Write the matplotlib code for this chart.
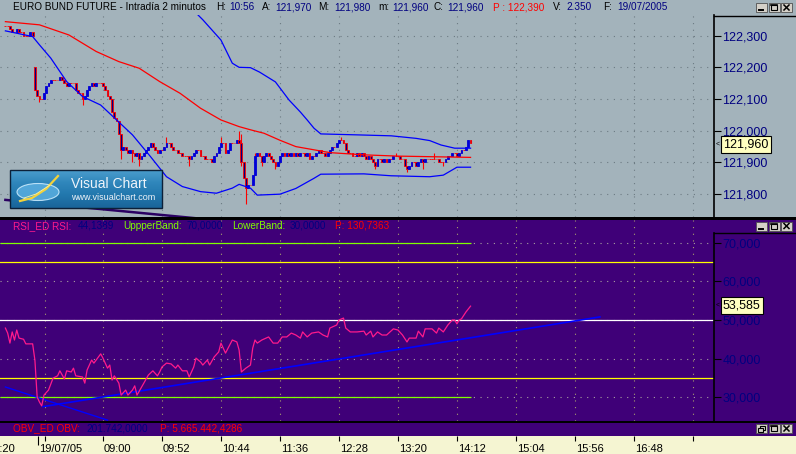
import matplotlib
matplotlib.use("Agg")
import matplotlib.pyplot as plt
import matplotlib.transforms as mtransforms
from matplotlib.patches import Rectangle, Ellipse
import numpy as np

plt.rcParams['font.family'] = ['Liberation Sans', 'DejaVu Sans']

# ---------------- data ----------------
# 2-minute bars, EURO BUND FUTURE, bar index 0 = first visible bar
close = [122.33, 122.33, 122.32, 122.31, 122.31, 122.32, 122.31, 122.31, 122.30, 122.30, 122.30, 122.31, 122.30,
         122.13, 122.11, 122.10, 122.10, 122.12, 122.14, 122.15, 122.16,
         122.16, 122.16, 122.16, 122.17, 122.16, 122.15, 122.14, 122.15, 122.15, 122.15,
         122.13, 122.12, 122.12, 122.10, 122.11, 122.13, 122.14, 122.15, 122.14, 122.15,
         122.15, 122.15, 122.14, 122.13, 122.11, 122.10, 122.06, 122.04, 122.03, 121.99,
         121.94, 121.95, 121.94, 121.93, 121.94, 121.93, 121.92, 121.93, 121.91, 121.92,
         121.93, 121.94, 121.95, 121.96, 121.95, 121.94, 121.93, 121.94, 121.94, 121.95,
         121.96, 121.96, 121.95, 121.94, 121.94, 121.93, 121.93, 121.92, 121.92, 121.92,
         121.91, 121.92, 121.93, 121.94, 121.94, 121.92, 121.92, 121.91, 121.91, 121.91,
         121.90, 121.92, 121.93, 121.95, 121.96, 121.96, 121.93, 121.94, 121.96, 121.96,
         121.96, 121.97, 121.96, 121.90, 121.85, 121.82, 121.83, 121.83, 121.86, 121.92,
         121.93, 121.92, 121.90, 121.92, 121.93, 121.92, 121.91, 121.90, 121.89, 121.90,
         121.92, 121.93, 121.92, 121.93, 121.92, 121.93, 121.92, 121.93, 121.92, 121.93,
         121.93, 121.92, 121.93, 121.91, 121.92, 121.92, 121.93, 121.94, 121.93, 121.93,
         121.92, 121.93, 121.94, 121.95, 121.95, 121.96, 121.97, 121.97, 121.96, 121.94,
         121.93, 121.93, 121.92, 121.92, 121.93, 121.92, 121.93, 121.92, 121.91, 121.92,
         121.91, 121.90, 121.89, 121.91, 121.91, 121.90, 121.91, 121.90, 121.91, 121.91,
         121.92, 121.92, 121.92, 121.91, 121.91, 121.89, 121.88, 121.89, 121.90, 121.90,
         121.89, 121.90, 121.91, 121.90, 121.91, 121.91, 121.91, 121.91, 121.91, 121.91,
         121.90, 121.90, 121.90, 121.91, 121.92, 121.92, 121.93, 121.93, 121.92, 121.93,
         121.94, 121.94, 121.95, 121.97, 121.96]
gap_open = {13: 122.20}
wick_high = {13: 122.20, 47: 122.10, 71: 121.98, 95: 121.98, 103: 122.00, 104: 121.99,
             110: 121.93, 148: 121.98, 172: 121.93, 189: 121.93, 204: 121.97}
wick_low = {15: 122.09, 34: 122.08, 51: 121.91, 56: 121.90, 59: 121.89, 81: 121.89, 104: 121.89,
            106: 121.77, 113: 121.89, 119: 121.88, 163: 121.88, 177: 121.87, 184: 121.88, 193: 121.89}

ma_bar = [0, 15, 28, 40, 50, 59, 68, 77, 86, 95, 103, 108, 114, 121, 128, 143, 158, 173, 205]
ma_val = [122.344, 122.334, 122.302, 122.25, 122.218, 122.197, 122.155, 122.118, 122.071, 122.034,
          122.013, 122.003, 121.992, 121.97, 121.95, 121.931, 121.924, 121.92, 121.916]

upper_bar = [80, 87, 95, 100, 103, 108, 112, 119, 125, 130, 133, 136, 139, 155, 170, 181, 187, 192, 198, 205]
upper_val = [122.40, 122.35, 122.286, 122.213, 122.20, 122.199, 122.185, 122.154, 122.097, 122.059,
             122.034, 122.008, 121.99, 121.987, 121.984, 121.976, 121.969, 121.955, 121.945, 121.945]

lower_bar = [0, 12, 15, 20, 27, 34, 42, 49, 56, 64, 71, 78, 86, 93, 100, 103, 108, 111, 121, 128,
             136, 139, 158, 170, 187, 193, 199, 205]
lower_val = [122.315, 122.297, 122.271, 122.229, 122.155, 122.108, 122.081, 122.034, 121.987, 121.918,
             121.855, 121.824, 121.808, 121.803, 121.819, 121.831, 121.819, 121.797, 121.80, 121.818,
             121.85, 121.863, 121.864, 121.858, 121.855, 121.86, 121.885, 121.885]

overlay_bar = [0, 84]
overlay_val = [121.782, 121.724]

rsi_bar = [0, 1, 2, 3, 4, 5, 6, 8, 9, 12, 13, 14, 15, 16, 17, 19, 21, 23, 24, 26, 27, 29, 30, 31, 34, 35,
           36, 38, 39, 42, 43, 45, 46, 47, 48, 50, 51, 53, 54, 56, 57, 58, 61, 63, 65, 67, 68, 69, 71, 73,
           75, 76, 78, 80, 81, 83, 84, 86, 87, 89, 90, 92, 94, 95, 97, 100, 102, 103, 104, 106, 108, 109,
           110, 111, 113, 116, 118, 120, 122, 124, 126, 128, 130, 131, 133, 135, 138, 140, 142, 143, 146,
           147, 149, 150, 152, 155, 158, 159, 161, 162, 164, 166, 168, 171, 173, 175, 177, 178, 181, 182,
           184, 185, 188, 190, 191, 193, 195, 197, 198, 199, 200, 201, 203, 205]
rsi_val = [47.9, 46.6, 44.0, 46.9, 44.8, 47.4, 45.3, 45.0, 43.8, 43.8, 39.6, 30.0, 28.7, 27.7, 30.5, 31.8,
           34.9, 35.5, 36.8, 34.7, 36.8, 36.5, 37.5, 35.5, 35.2, 33.6, 37.0, 39.6, 38.8, 41.2, 40.1, 37.5,
           38.3, 34.4, 35.5, 33.6, 30.5, 31.8, 30.5, 31.8, 32.9, 30.5, 33.6, 35.7, 36.8, 35.5, 36.5, 37.8,
           38.8, 38.6, 37.5, 38.3, 36.8, 36.8, 35.2, 37.8, 40.1, 39.1, 38.3, 39.6, 38.3, 40.4, 41.7, 44.0,
           41.4, 44.8, 44.3, 42.2, 36.5, 37.5, 38.3, 42.7, 44.8, 44.0, 44.8, 45.6, 44.0, 44.0, 45.6, 45.6,
           46.6, 46.1, 45.3, 46.9, 45.6, 46.6, 46.9, 46.1, 45.6, 47.9, 48.7, 50.0, 50.5, 47.9, 46.9, 46.9,
           47.1, 46.1, 47.1, 45.6, 46.9, 46.1, 46.1, 47.7, 47.4, 46.1, 44.3, 45.3, 45.3, 47.1, 45.6, 47.7,
           47.7, 46.6, 47.9, 46.9, 48.7, 50.0, 50.0, 49.0, 50.0, 50.3, 52.1, 53.6]
rsi_down_bar = [0, 45]
rsi_down_val = [32.6, 24.0]
rsi_up_bar = [16.6, 262]
rsi_up_val = [27.5, 50.8]
upper_band_level = 70
lower_band_level = 30
rsi_levels_yellow = [65, 35]
rsi_level_white = 50

price_ticks = [121.8, 121.9, 122.0, 122.1, 122.2, 122.3]
rsi_ticks = [30, 40, 50, 60, 70]
time_ticks = [43, 69, 95, 121, 147, 173, 199, 225, 251, 277]
time_labels = ['09:00', '09:52', '10:44', '11:36', '12:28', '13:20', '14:12', '15:04', '15:56', '16:48']
grid_bars = [17.5] + time_ticks + [303]
day_tick, day_label = 14.5, '19/07/05'
prev_tick, prev_label = -8.5, '17:20'

title_parts = [("EURO BUND FUTURE - Intradía 2 minutos", 'black', 13), ("H:", 'black', 216), ("10:56", 'navy', 229),
               ("A:", 'black', 262), ("121,970", 'navy', 275), ("M:", 'black', 318), ("121,980", 'navy', 334),
               ("m:", 'black', 378), ("121,960", 'navy', 392), ("C:", 'black', 434), ("121,960", 'navy', 447),
               ("P : 122,390", 'red', 493), ("V:", 'black', 553), ("2.350", 'navy', 566), ("F:", 'black', 603),
               ("19/07/2005", 'navy', 617)]
rsi_parts = [("RSI_ED RSI:", 'pink', 13), ("44,1389", 'navy', 78), ("UppperBand:", 'lime', 123),
             ("70,0000", 'navy', 187), ("LowerBand:", 'lime', 232), ("30,0000", 'navy', 290),
             ("P: 130,7363", 'red', 335)]
obv_parts = [("OBV_ED OBV:", 'red', 13), ("201.742,0000", 'navy', 86), ("P: 5.665.442,4286", 'red', 160)]

# ---------------- style ----------------
W, H = 796, 454
PX_PER_BAR = 2.269
X_LEFT = -2.38
PRICE_BG = '#a3b3bb'
RSI_BG = '#3f0078'
STRIP_BG = '#f5f5d2'
NAVY = '#000080'
COLORS = {'black': 'black', 'navy': NAVY, 'red': '#ff0000', 'pink': '#ff1a8c', 'lime': '#80ff00'}

fig = plt.figure(figsize=(W / 100, H / 100), dpi=100)


def frac(x0, y0, x1, y1):
    return [x0 / W, 1 - y1 / H, (x1 - x0) / W, (y1 - y0) / H]


bg = fig.add_axes([0, 0, 1, 1], zorder=-10)
bg.set_xlim(0, W)
bg.set_ylim(H, 0)
bg.axis('off')
for x0, y0, x1, y1, c in [(0, 0, W, 217, PRICE_BG), (0, 217, W, 220, 'black'), (0, 220, W, 436, RSI_BG),
                          (0, 421, W, 422.5, 'black'), (0, 436, W, H, STRIP_BG)]:
    bg.add_patch(Rectangle((x0, y0), x1 - x0, y1 - y0, facecolor=c, edgecolor='none'))

xlim = (X_LEFT, X_LEFT + 714 / PX_PER_BAR)

# ---------------- price panel ----------------
axp = fig.add_axes(frac(0, 15, 714, 217))
axp.set_facecolor(PRICE_BG)
for s in ['top', 'left', 'bottom']:
    axp.spines[s].set_visible(False)
axp.spines['right'].set_linewidth(1.2)
axp.set_xlim(*xlim)
axp.set_ylim(121.728, 122.365)
axp.yaxis.tick_right()
axp.set_yticks(price_ticks)
axp.set_yticklabels([f"{v:.3f}".replace('.', ',') for v in price_ticks])
axp.tick_params(axis='y', direction='out', length=5, width=0.8, colors='black',
                labelcolor=NAVY, labelsize=9, pad=1)
axp.set_xticks(grid_bars)
axp.tick_params(axis='x', bottom=False, labelbottom=False)
axp.set_axisbelow(True)
axp.grid(True, color='#6c7a82', linestyle=(0, (1, 5)), linewidth=0.8)

idx = np.arange(len(close))
cl = np.array(close)
op = np.concatenate([[close[0]], cl[:-1]])
for k, v in gap_open.items():
    op[k] = v
hi = np.maximum(op, cl)
lo = np.minimum(op, cl)
for k, v in wick_high.items():
    hi[k] = max(hi[k], v)
for k, v in wick_low.items():
    lo[k] = min(lo[k], v)
up = cl > op
face = np.where(up, '#0000d8', '#000080')
edge = np.where(up, '#0000d8', '#ff0000')
axp.vlines(idx, lo, hi, colors='#ff0000', linewidth=0.8, zorder=2)
axp.bar(idx, cl - op, bottom=op, width=0.8, color=face, edgecolor=edge, linewidth=0.6, zorder=3)

axp.plot(ma_bar, ma_val, color='#ff0000', linewidth=0.9, zorder=4)
axp.plot(upper_bar, upper_val, color='#0000ff', linewidth=0.9, zorder=4)
axp.plot(lower_bar, lower_val, color='#0000ff', linewidth=0.9, zorder=4)
axp.plot(overlay_bar, overlay_val, color='#2a0062', linewidth=1.8, zorder=4)

# ---------------- RSI panel ----------------
axr = fig.add_axes(frac(0, 220, 714, 421))
axr.set_facecolor(RSI_BG)
for s in axr.spines.values():
    s.set_visible(False)
axr.set_xlim(*xlim)
axr.set_ylim(23.77, 75.97)
axr.yaxis.tick_right()
axr.set_yticks(rsi_ticks)
axr.set_yticklabels([f"{v:.3f}".replace('.', ',') for v in rsi_ticks])
axr.tick_params(axis='y', direction='out', length=5, width=0.8, colors='black',
                labelcolor=NAVY, labelsize=9, pad=1)
axr.set_xticks(grid_bars)
axr.tick_params(axis='x', bottom=False, labelbottom=False)
axr.set_axisbelow(True)
axr.grid(True, axis='x', color='#a8a070', linestyle=(0, (1, 5)), linewidth=0.8)
axr.grid(True, axis='y', color='#a8a0a0', linestyle=(0, (1, 5)), linewidth=0.8)

axr.hlines([upper_band_level, lower_band_level], X_LEFT, len(close) - 1, colors='#80ff00', linewidth=0.9, zorder=2)
for lv in rsi_levels_yellow:
    axr.axhline(lv, color='#ffff00', linewidth=0.9, zorder=2)
axr.axhline(rsi_level_white, color='white', linewidth=0.9, zorder=2)
axr.plot(rsi_down_bar, rsi_down_val, color='#0000ff', linewidth=1.0, zorder=3)
axr.plot(rsi_up_bar, rsi_up_val, color='#0000ff', linewidth=1.2, zorder=3)
axr.plot(rsi_bar, rsi_val, color='#ff1a8c', linewidth=0.9, zorder=4)

# ---------------- time strip ----------------
axt = fig.add_axes(frac(0, 436, 714, 454))
axt.patch.set_alpha(0)
for s in axt.spines.values():
    s.set_visible(False)
axt.set_xlim(*xlim)
axt.set_ylim(0, 1)
axt.set_yticks([])
axt.xaxis.set_ticks_position('top')
axt.set_xticks(grid_bars)
axt.set_xticks([day_tick], minor=True)
axt.tick_params(axis='x', which='major', direction='in', length=3.3, width=0.8, colors='black', labeltop=False)
axt.tick_params(axis='x', which='minor', direction='in', length=6.2, width=0.8, colors='black', labeltop=False)
tr = mtransforms.blended_transform_factory(axt.transData, axt.transAxes)
for pos, lab in zip([prev_tick, day_tick] + time_ticks, [prev_label, day_label] + time_labels):
    axt.text(pos + 0.3, 0.1, lab, transform=tr, ha='left', va='baseline', fontsize=8, color='black',
             clip_on=False)

# ---------------- overlay: headers, boxes, buttons, logo ----------------
ov = fig.add_axes([0, 0, 1, 1], zorder=10)
ov.patch.set_alpha(0)
ov.axis('off')


def parts(items, y, size=7.2):
    for s, c, x in items:
        ov.text(x, y, s, color=COLORS[c], fontsize=size, ha='left', va='baseline')


parts(title_parts, 10.5)
parts(rsi_parts, 229)
parts(obv_parts, 431.5)

ov.plot([714, W], [15.5, 15.5], color='black', linewidth=1)
ov.plot([714, W], [233, 233], color='black', linewidth=1)
ov.plot([714, 714], [233, 421.5], color='black', linewidth=1.2)

for txt, yc in [("121,960", 144.5), ("53,585", 305.5)]:
    ov.text(723, yc, txt, fontsize=9, color='black', ha='left', va='center',
            bbox=dict(boxstyle='square,pad=0.18', facecolor='#ffffc0', edgecolor='black', linewidth=0.8))
    ov.text(716, yc, "<", fontsize=5, color='black', ha='left', va='center')


def button(x0, y0, kind):
    ov.add_patch(Rectangle((x0, y0), 11, 9, facecolor='#d4d0c8', edgecolor='#505050', linewidth=0.6))
    if kind == 'min':
        ov.plot([x0 + 3, x0 + 7], [y0 + 7, y0 + 7], color='black', linewidth=1.4)
    elif kind == 'max':
        ov.add_patch(Rectangle((x0 + 2.5, y0 + 2), 6, 5, facecolor='none', edgecolor='black', linewidth=0.8))
        ov.plot([x0 + 2.5, x0 + 8.5], [y0 + 2.4, y0 + 2.4], color='black', linewidth=1.2)
    elif kind == 'restore':
        ov.add_patch(Rectangle((x0 + 4, y0 + 1.5), 5, 4, facecolor='none', edgecolor='black', linewidth=0.8))
        ov.add_patch(Rectangle((x0 + 2, y0 + 3.5), 5, 4, facecolor='#d4d0c8', edgecolor='black', linewidth=0.8))
    else:
        ov.plot([x0 + 3, x0 + 8], [y0 + 2, y0 + 7], color='black', linewidth=1.1)
        ov.plot([x0 + 3, x0 + 8], [y0 + 7, y0 + 2], color='black', linewidth=1.1)


for yb, first in [(3, 'min'), (221.5, 'min'), (424, 'restore')]:
    button(756, yb, first)
    button(768.5, yb, 'max')
    button(781, yb, 'close')

grad = np.linspace(0, 1, 40)[:, None]
logo_cmap = matplotlib.colors.LinearSegmentedColormap.from_list(
    'vc', ['#4a9ccc', '#2f86bb', '#2277ad', '#1a659a'])
ov.imshow(grad, extent=(10, 162, 170, 208), origin='lower', cmap=logo_cmap, aspect='auto', zorder=1)
ov.add_patch(Rectangle((10, 170), 152, 38, facecolor='none', edgecolor='#0c2038', linewidth=1, zorder=2))
ov.add_patch(Ellipse((38, 192), 42, 17, facecolor='#5aaee0', edgecolor='#cfeeff', linewidth=0.8,
                     alpha=0.85, zorder=2))
ov.plot([20, 32, 46, 58], [201, 198, 189, 176], color='#f3d23a', linewidth=1.6, zorder=3)
ov.plot([24, 36, 50], [198, 194, 185], color='#fff3a0', linewidth=0.6, zorder=3)
ov.text(71, 187.5, "Visual Chart", color='#eef4fa', fontsize=10, ha='left', va='baseline', zorder=3)
ov.text(71, 200, "www.visualchart.com", color='#eef4fa', fontsize=6.5, ha='left', va='baseline', zorder=3)

ov.set_xlim(0, W)
ov.set_ylim(H, 0)

fig.savefig("out.png", dpi=100)
